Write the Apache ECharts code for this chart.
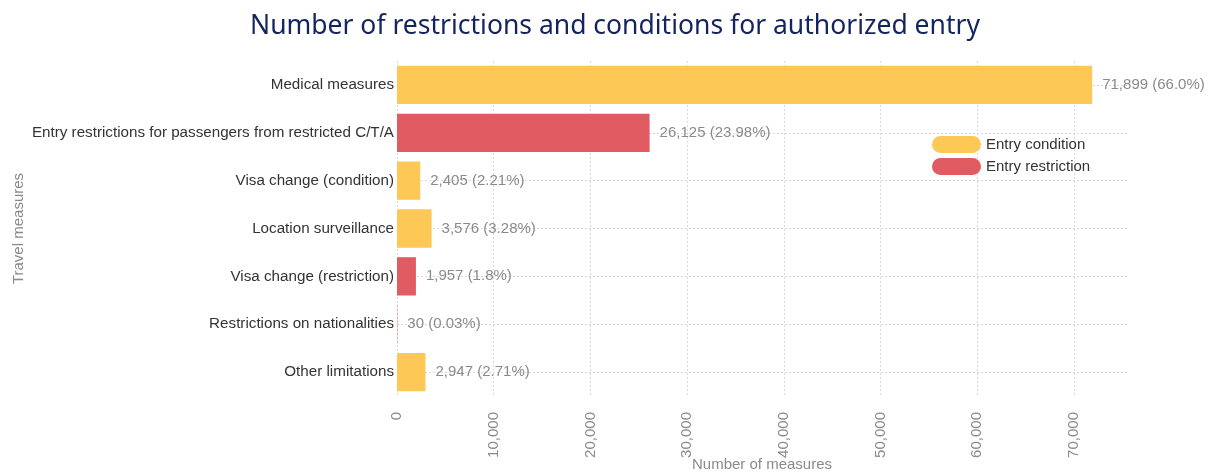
<!DOCTYPE html>
<html><head><meta charset="utf-8">
<script src="https://cdn.jsdelivr.net/npm/echarts@6/dist/echarts.min.js"></script>
<style>html,body{margin:0;padding:0;background:#fff}#c{width:1213px;height:472px}</style>
</head><body><div id="c"></div>
<script>
const categories = ["Medical measures","Entry restrictions for passengers from restricted C/T/A","Visa change (condition)","Location surveillance","Visa change (restriction)","Restrictions on nationalities","Other limitations"];
const conditionValues = [71899, "-", 2405, 3576, "-", "-", 2947];
const restrictionValues = ["-", 26125, "-", "-", 1957, 30, "-"];
const percents = ["66.0", "23.98", "2.21", "3.28", "1.8", "0.03", "2.71"];
const seriesNames = ["Entry condition", "Entry restriction"];

const chart = echarts.init(document.getElementById('c'), null, {renderer: 'canvas'});
const fmtLabel = p => p.value.toLocaleString('en-US') + ' (' + percents[p.dataIndex] + '%)';
const labelCfg = {show: true, position: 'right', distance: 10, color: '#8a8a8a', fontSize: 15, fontFamily: 'Liberation Sans, Arial', formatter: fmtLabel};
const pill = 'path://M8.5,0 H40.5 A8.5,8.5 0 0 1 40.5,17 H8.5 A8.5,8.5 0 0 1 8.5,0 Z';
const gridLine = {color: '#d9d9d9', type: [2, 2], width: 1};
chart.setOption({
  animation: false,
  textStyle: {fontFamily: 'Liberation Sans, Arial'},
  title: {text: 'Number of restrictions and conditions for authorized entry', left: 245, top: 8,
    textStyle: {color: '#13245e', fontSize: 26.5, fontWeight: 'normal', fontFamily: 'Noto Sans'}},
  legend: {orient: 'vertical', left: 932, top: 136, padding: 0, itemWidth: 49, itemHeight: 17, itemGap: 5,
    textStyle: {color: '#333', fontSize: 15},
    data: seriesNames.map(n => ({name: n, icon: pill}))},
  grid: {left: 397, right: 86, top: 61, bottom: 76, containLabel: false, outerBoundsMode: 'none'},
  xAxis: {type: 'value', min: 0, max: 75500, interval: 10000,
    name: 'Number of measures', nameLocation: 'middle', nameGap: 61, nameMoveOverlap: false,
    nameTextStyle: {color: '#8a8a8a', fontSize: 15},
    axisLine: {show: false}, axisTick: {show: false},
    axisLabel: {rotate: 90, color: '#8a8a8a', fontSize: 15, margin: 16,
      formatter: v => v.toLocaleString('en-US'), showMaxLabel: false},
    splitLine: {show: true, showMaxLine: false, lineStyle: gridLine}},
  yAxis: {type: 'category', data: categories, inverse: true,
    name: 'Travel measures', nameLocation: 'middle', nameGap: 371, nameMoveOverlap: false,
    nameTextStyle: {color: '#8a8a8a', fontSize: 15},
    axisLine: {show: false}, axisTick: {show: false},
    axisLabel: {color: '#333', fontSize: 15.2, margin: 3},
    splitLine: {show: false}},
  series: [
    {name: seriesNames[0], type: 'bar', stack: 's', data: conditionValues, barCategoryGap: '20%',
      itemStyle: {color: '#fec857'}, label: labelCfg, z: 3,
      markLine: {silent: true, symbol: 'none', z: 1, label: {show: false},
        lineStyle: gridLine,
        emphasis: {disabled: true},
        data: categories.map((c, i) => ({yAxis: i}))}},
    {name: seriesNames[1], type: 'bar', stack: 's', data: restrictionValues, barCategoryGap: '20%',
      itemStyle: {color: '#e05c62'}, label: labelCfg, z: 3}
  ]
});
</script></body></html>
